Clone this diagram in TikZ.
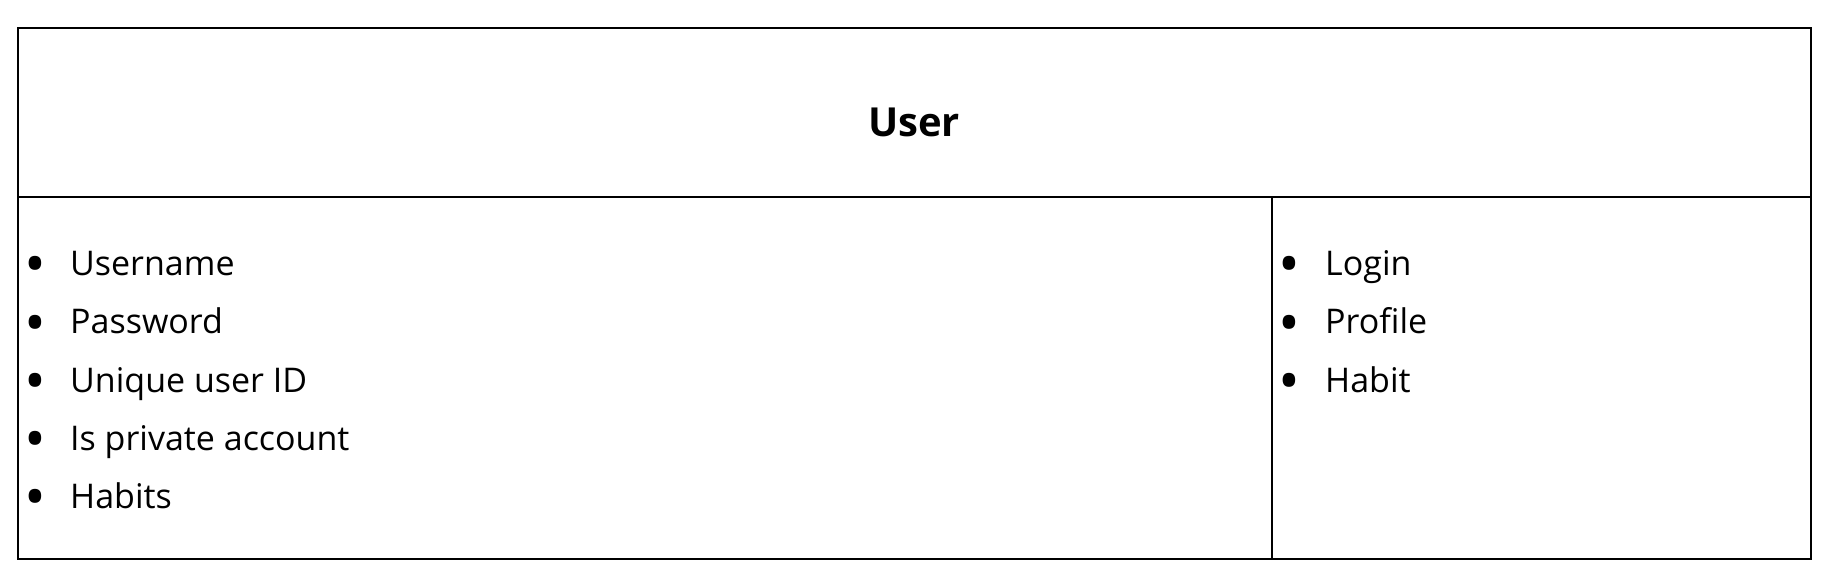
\documentclass[tikz,border=0pt]{standalone}
\usepackage{fontspec}
\setmainfont{Open Sans}
\begin{document}
\begin{tikzpicture}[x=1pt,y=-1pt,
  frame/.style={draw=black,line width=2pt},
  item/.style={anchor=base west,inner sep=0pt,font=\fontsize{34}{40}\selectfont},
  dot/.style={anchor=base,inner sep=0pt,font=\fontsize{58}{60}\selectfont},
  title/.style={inner sep=0pt,font=\fontsize{40}{46}\selectfont\bfseries}]
\useasboundingbox (0,0) rectangle (1836,588);
\coordinate (tl) at (18,28);
\coordinate (br) at (1811,559);
\coordinate (hl) at (18,197.5);
\coordinate (hr) at (1811,197.5);
\coordinate (vt) at (1272,197.5);
\coordinate (vb) at (1272,559);
\draw[frame] (tl) rectangle (br);
\draw[frame] (hl) -- (hr);
\draw[frame] (vt) -- (vb);
\node[title,anchor=base] (t) at (914,137) {User};
% attributes
\node[dot] (b1) at (35.5,284.5) {•};
\node[item] (a1) at (70,275) {Username};
\node[dot] (b2) at (35.5,343) {•};
\node[item] (a2) at (70,333.5) {Password};
\node[dot] (b3) at (35.5,401.5) {•};
\node[item] (a3) at (70,392) {Unique user ID};
\node[dot] (b4) at (35.5,459.5) {•};
\node[item] (a4) at (70,450) {Is private account};
\node[dot] (b5) at (35.5,517.5) {•};
\node[item] (a5) at (70,508) {Habits};
% methods
\node[dot] (c1) at (1289.5,284.5) {•};
\node[item] (m1) at (1325,275) {Login};
\node[dot] (c2) at (1289.5,343) {•};
\node[item] (m2) at (1325,333.5) {Profile};
\node[dot] (c3) at (1289.5,401.5) {•};
\node[item] (m3) at (1325,392) {Habit};
\end{tikzpicture}
\end{document}
